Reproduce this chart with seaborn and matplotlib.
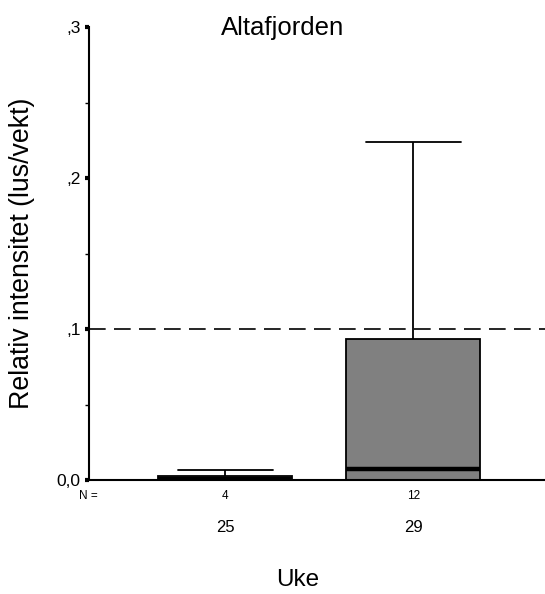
'''
Boxplot of relative lice intensity per week, Altafjorden
'''
import matplotlib
matplotlib.use('Agg')
import matplotlib.pyplot as plt
import matplotlib.ticker as mticker
import pandas as pd
import seaborn as sns

week_25 = [0.0, 0.0, 0.001, 0.0066]
week_29 = [0.0, 0.0, 0.0, 0.0, 0.001, 0.004, 0.0106, 0.03, 0.085, 0.118, 0.16, 0.224]
weeks = ['25', '29']
limit = 0.1
ytick_vals = [0.0, 0.1, 0.2, 0.3]
ytick_labels = ['0,0', ',1', ',2', ',3']

df = pd.DataFrame({
    'uke': ['25'] * len(week_25) + ['29'] * len(week_29),
    'intensitet': week_25 + week_29,
})
counts = df.groupby('uke')['intensitet'].size()

sns.set_style('white')
plt.rcParams['font.family'] = ['Liberation Sans', 'DejaVu Sans']
plt.rcParams['lines.scale_dashes'] = False
plt.rcParams['text.color'] = 'black'
plt.rcParams['xtick.color'] = 'black'
plt.rcParams['ytick.color'] = 'black'

fig = plt.figure(figsize=(5.45, 5.94), dpi=100)
ax = fig.add_axes([89 / 545, 1 - 480 / 594, 1 - 89 / 545, (480 - 27) / 594])

ax.axhline(limit, color='black', lw=1.2, ls=(0, (12, 6)), zorder=0)

sns.boxplot(data=df, x='uke', y='intensitet', order=weeks, ax=ax,
            color='#808080', width=0.713, whis=(0, 100),
            linecolor='black', linewidth=1.3, fliersize=0,
            capwidths=0.505,
            medianprops={'linewidth': 3.2, 'color': 'black'},
            boxprops={'facecolor': '#808080', 'edgecolor': 'black'})

ax.set_xlim(-0.723, 1.70)
ax.set_ylim(0, 0.3)
ax.set_yticks(ytick_vals)
ax.set_yticklabels(ytick_labels, fontsize=12.5)
ax.yaxis.set_minor_locator(mticker.FixedLocator([0.05, 0.15, 0.25]))
ax.tick_params(axis='y', which='major', left=True, length=3, width=3, pad=3, color='black')
ax.tick_params(axis='y', which='minor', left=True, length=3, width=1, color='black')
ax.tick_params(axis='x', which='major', bottom=False, labelsize=12, pad=25)

for side in ['top', 'right']:
    ax.spines[side].set_visible(False)
for side in ['left', 'bottom']:
    ax.spines[side].set_color('black')
    ax.spines[side].set_linewidth(1.5)

# N counts under the boxes
trans = ax.get_xaxis_transform()
ax.text(-0.728, -16 / 453, 'N =', transform=trans, ha='center', va='center', fontsize=8.5)
for i, w in enumerate(weeks):
    ax.text(i, -16 / 453, str(counts[w]), transform=trans, ha='center', va='center', fontsize=8.5)

ax.set_xlabel('')
ax.set_ylabel('')
fig.text(283 / 545, 1 - 28 / 594, 'Altafjorden', ha='center', va='center', fontsize=18.5)
fig.text(298 / 545, 1 - 580 / 594, 'Uke', ha='center', va='center', fontsize=17.5)
fig.text(22 / 545, 1 - 253 / 594, 'Relativ intensitet (lus/vekt)', ha='center', va='center',
         rotation=90, fontsize=19.3)

fig.savefig('out.png', dpi=100)
